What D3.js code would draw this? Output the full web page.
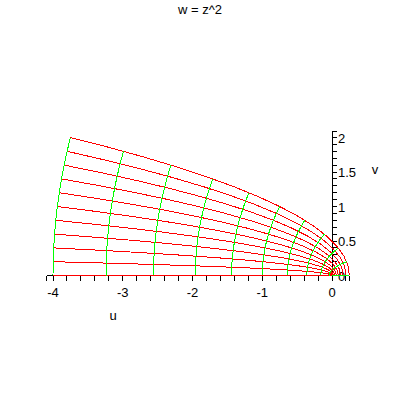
<!DOCTYPE html>
<html>
<head>
    <title>w = z^2</title>
    <script src="https://d3js.org/d3.v7.min.js"></script>
    <style>
        body { margin: 0; background: #fff; }
        text { font-family: "Liberation Sans", Arial, sans-serif; font-size: 13px; fill: #000; }
        .axis line, .axis path { stroke: #000; shape-rendering: crispEdges; }
        .curve { fill: none; stroke-width: 1; shape-rendering: crispEdges; }
    </style>
</head>
<body>
    <svg width="400" height="400"></svg>
    <script>
        // conformal(z^2, z = 0 .. 1/2 + 2*I) : 11 x 11 grid, 15 points per line
        var reGrid = [0, 0.05, 0.1, 0.15, 0.2, 0.25, 0.3, 0.35, 0.4, 0.45, 0.5];   // red lines
        var imGrid = [0, 0.2, 0.4, 0.6, 0.8, 1, 1.2, 1.4, 1.6, 1.8, 2];            // green lines
        var reSamples = [0, 0.0357, 0.0714, 0.1071, 0.1429, 0.1786, 0.2143, 0.25,
                         0.2857, 0.3214, 0.3571, 0.3929, 0.4286, 0.4643, 0.5];
        var imSamples = [0, 0.1429, 0.2857, 0.4286, 0.5714, 0.7143, 0.8571, 1,
                         1.1429, 1.2857, 1.4286, 1.5714, 1.7143, 1.8571, 2];

        var uTicks = [-4, -3, -2, -1, 0];
        var vTicks = [0, 0.5, 1, 1.5, 2];
        var uMinor = d3.range(-20, 2).map(function(i) { return i / 5; });
        var vMinor = d3.range(0, 21).map(function(i) { return i / 10; });

        var svg = d3.select("svg");

        var x = d3.scaleLinear().domain([-4, 0]).range([53, 332]);
        var y = d3.scaleLinear().domain([0, 2]).range([275.5, 137.5]);

        function square(a, b) { return [a * a - b * b, 2 * a * b]; }

        // title
        svg.append("text")
            .attr("x", 200).attr("y", 14)
            .attr("text-anchor", "middle")
            .text("w = z^2");

        // axes
        var ax = svg.append("g").attr("class", "axis");
        ax.append("line")
            .attr("x1", x(-4.09)).attr("x2", x(0.25))
            .attr("y1", y(0)).attr("y2", y(0));
        ax.selectAll(".ut")
            .data(uMinor.concat([-4.09, 0.25]))
            .enter().append("line")
            .attr("class", "ut")
            .attr("x1", function(d) { return x(d); })
            .attr("x2", function(d) { return x(d); })
            .attr("y1", y(0)).attr("y2", y(0) + 5);
        ax.selectAll(".ul")
            .data(uTicks)
            .enter().append("text")
            .attr("class", "ul")
            .attr("x", function(d) { return x(d); })
            .attr("y", y(0) + 21)
            .attr("text-anchor", "middle")
            .text(function(d) { return d; });

        ax.append("line")
            .attr("x1", x(0)).attr("x2", x(0))
            .attr("y1", y(0)).attr("y2", y(2.09));
        ax.selectAll(".vt")
            .data(vMinor.concat([2.09]))
            .enter().append("line")
            .attr("class", "vt")
            .attr("x1", x(0)).attr("x2", x(0) + 5)
            .attr("y1", function(d) { return y(d); })
            .attr("y2", function(d) { return y(d); });
        ax.selectAll(".vl")
            .data(vTicks)
            .enter().append("text")
            .attr("class", "vl")
            .attr("x", x(0) + 6)
            .attr("y", function(d) { return y(d) + 5; })
            .text(function(d) { return d; });

        svg.append("text").attr("x", 113).attr("y", 320)
            .attr("text-anchor", "middle").text("u");
        svg.append("text").attr("x", 375).attr("y", 174)
            .attr("text-anchor", "middle").text("v");

        var line = d3.line()
            .x(function(d) { return x(d[0]); })
            .y(function(d) { return y(d[1]); });

        // lines of constant Re z
        svg.append("g").selectAll("path")
            .data(reGrid)
            .enter().append("path")
            .attr("class", "curve")
            .attr("stroke", "#ff0000")
            .attr("d", function(a) {
                return line(imSamples.map(function(b) { return square(a, b); }));
            });

        // lines of constant Im z
        svg.append("g").selectAll("path")
            .data(imGrid)
            .enter().append("path")
            .attr("class", "curve")
            .attr("stroke", "#00ff00")
            .attr("d", function(b) {
                return line(reSamples.map(function(a) { return square(a, b); }));
            });
    </script>
</body>
</html>
